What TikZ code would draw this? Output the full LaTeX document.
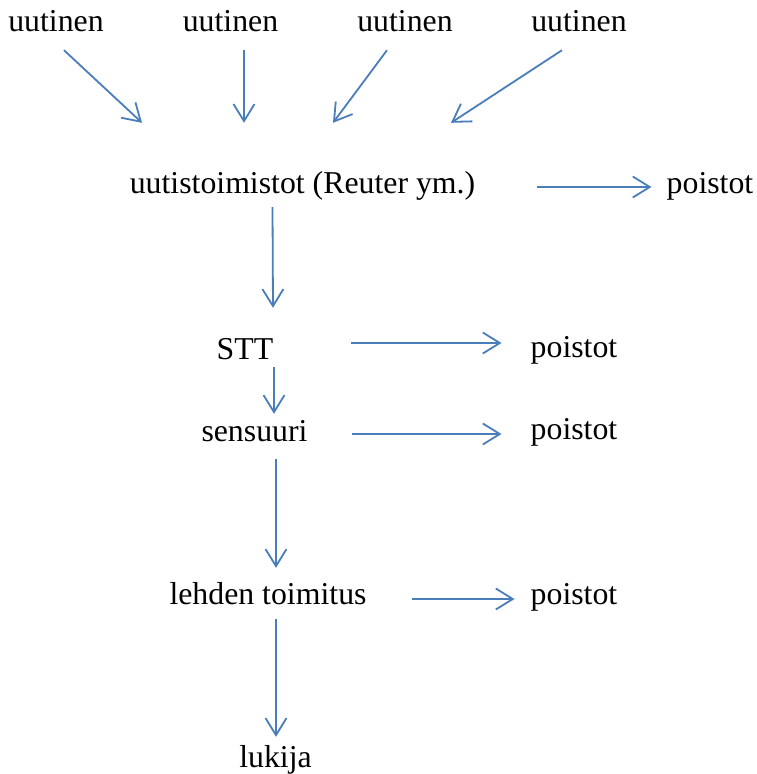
\documentclass[tikz,border=0pt]{standalone}
\usepackage{xcolor}
\usepackage{fontspec}
\setmainfont{Liberation Serif}
\usepackage{tikz}
\usetikzlibrary{arrows.meta}
\definecolor{officeblue}{RGB}{74,126,187}
\tikzset{
    wordnode/.style={anchor=base,inner sep=0pt,text height=22pt,text depth=7pt,font=\fontsize{31.8}{38}\selectfont},
    flowarrow/.style={draw=officeblue,line width=1.8pt,-{Straight Barb[length=17pt,width=21pt,line width=1.8pt]}}
}
\begin{document}
\begin{tikzpicture}[x=1pt,y=-1pt]
\useasboundingbox (0,0) rectangle (756,774);

\node[wordnode](U1) at (56,31) {uutinen};
\node[wordnode](U2) at (230.5,31) {uutinen};
\node[wordnode](U3) at (405,31) {uutinen};
\node[wordnode](U4) at (579,31) {uutinen};

\node[wordnode](UTS) at (302.5,193) {uutistoimistot (Reuter ym.)};
\node[wordnode](P1) at (710,193) {poistot};

\node[wordnode](STT) at (245,359) {STT};
\node[wordnode](P2) at (574,357) {poistot};

\node[wordnode](SEN) at (254.5,441) {sensuuri};
\node[wordnode](P3) at (574,439) {poistot};

\node[wordnode](LEH) at (268,604) {lehden toimitus};
\node[wordnode](P4) at (574,604) {poistot};

\node[wordnode](LUK) at (275.5,767) {lukija};

% uutiset sisaan
\draw[flowarrow] ([xshift=8pt,yshift=-12pt]U1.south) -- ([xshift=-160.5pt,yshift=48pt]UTS.north);
\draw[flowarrow] ([xshift=13.5pt,yshift=-12pt]U2.south) -- ([xshift=-58.5pt,yshift=48pt]UTS.north);
\draw[flowarrow] ([xshift=-18pt,yshift=-12pt]U3.south) -- ([xshift=30.5pt,yshift=48pt]UTS.north);
\draw[flowarrow] ([xshift=-17pt,yshift=-12pt]U4.south) -- ([xshift=148.5pt,yshift=48pt]UTS.north);

% alaspain
\draw[flowarrow] ([xshift=-30pt,yshift=-7pt]UTS.south) -- ([xshift=28pt,yshift=29pt]STT.north);
\draw[flowarrow] ([xshift=29pt,yshift=-1pt]STT.south) -- ([xshift=19.5pt,yshift=5pt]SEN.north);
\draw[flowarrow] ([xshift=21.5pt,yshift=-11pt]SEN.south) -- ([xshift=8pt,yshift=14pt]LEH.north);
\draw[flowarrow] ([xshift=8pt,yshift=-8pt]LEH.south) -- ([xshift=0.5pt,yshift=8pt]LUK.north);

% poistot
\draw[flowarrow] ([xshift=62pt,yshift=-1.5pt]UTS.east) -- ([xshift=-15pt,yshift=-1.5pt]P1.west);
\draw[flowarrow] ([xshift=78pt,yshift=8.5pt]STT.east) -- ([xshift=-29pt,yshift=6.5pt]P2.west);
\draw[flowarrow] ([xshift=44pt,yshift=-0.5pt]SEN.east) -- ([xshift=-29pt,yshift=-2.5pt]P3.west);
\draw[flowarrow] ([xshift=45pt,yshift=-2.5pt]LEH.east) -- ([xshift=-16pt,yshift=-2.5pt]P4.west);

\end{tikzpicture}
\end{document}
